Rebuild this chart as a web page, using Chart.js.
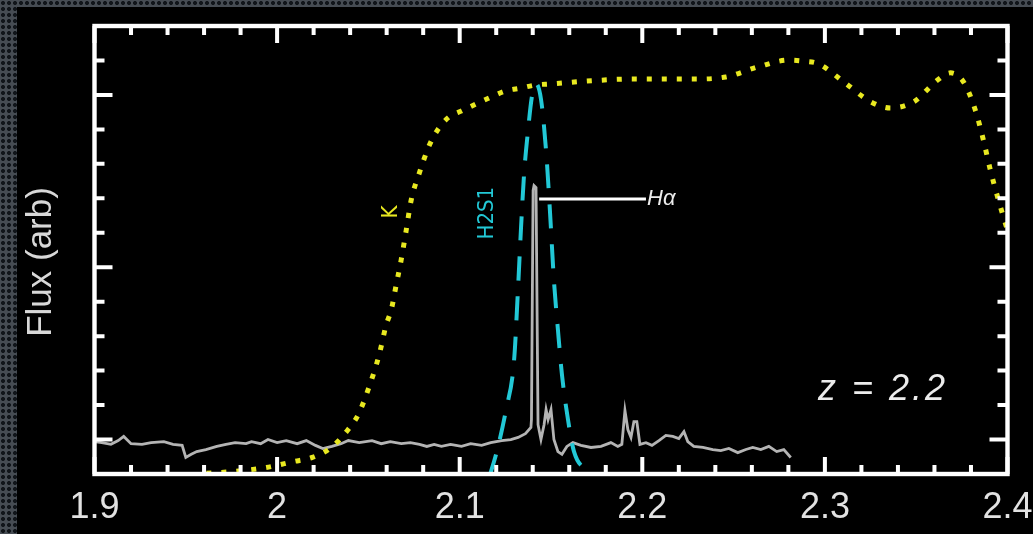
<!DOCTYPE html>
<html>
<head>
<meta charset="utf-8">
<script src="https://cdn.jsdelivr.net/npm/chart.js@4.4.1/dist/chart.umd.min.js"></script>
<style>
  html, body { margin: 0; padding: 0; }
  body {
    width: 1033px; height: 534px; overflow: hidden; position: relative;
    background-color: #464c53;
    background-image: radial-gradient(circle, #11151a 1.7px, transparent 2.3px);
    background-size: 6px 6px;
  }
  #panel { position: absolute; left: 17px; top: 7px; right: 0; bottom: 0; background: #000; }
  #wrap { position: absolute; left: 0; top: 0; width: 1033px; height: 534px; }
</style>
</head>
<body>
<div id="panel"></div>
<div id="wrap"><canvas id="specChart"></canvas></div>
<script>
// K band filter curve (dotted yellow)
const kWave = [1.9613, 1.9777, 1.9941, 2.0089, 2.0193, 2.0297, 2.0389, 2.0444, 2.0504, 2.0559,
  2.0597, 2.0625, 2.0652, 2.0679, 2.0707, 2.0734, 2.0778, 2.0833, 2.0876, 2.0937, 2.1013, 2.1090,
  2.1172, 2.1254, 2.1336, 2.1418, 2.1500, 2.1691, 2.1938, 2.2266, 2.2457, 2.2632, 2.2802, 2.2884,
  2.2966, 2.3103, 2.3251, 2.3360, 2.3486, 2.3617, 2.3688, 2.3759, 2.3825, 2.3869, 2.3907, 2.3951, 2.4000];
const kFlux = [-0.98, -0.92, -0.81, -0.64, -0.52, -0.23, 0.29, 0.72, 1.53, 2.46,
  3.32, 3.76, 4.48, 5.20, 6.07, 6.94, 7.72, 8.53, 8.96, 9.34, 9.54, 9.74,
  9.94, 10.12, 10.20, 10.29, 10.32, 10.40, 10.46, 10.46, 10.52, 10.81, 11.01, 10.98,
  10.90, 10.38, 9.80, 9.62, 9.80, 10.43, 10.64, 10.38, 9.54, 8.67, 7.80, 6.94, 6.07];

// H2S1 narrow filter (dashed cyan)
const h2Wave = [2.1161, 2.1199, 2.1254, 2.1298, 2.1319, 2.1336, 2.1352, 2.1374, 2.1396, 2.1418,
  2.1445, 2.1473, 2.1494, 2.1516, 2.1538, 2.1560, 2.1593, 2.1626, 2.1702, 2.1773];
const h2Flux = [-1.1, -0.43, 0.87, 2.31, 4.34, 6.16, 7.66, 8.96, 9.97, 10.32,
  9.88, 8.38, 6.65, 4.62, 3.18, 1.88, 0.58, -0.35, -0.92, -1.3];

// observed spectrum (grey)
const specWave = [1.900, 1.904, 1.909, 1.913, 1.916, 1.920, 1.926, 1.931, 1.938, 1.943, 1.948, 1.950,
  1.953, 1.956, 1.961, 1.967, 1.972, 1.977, 1.983, 1.986, 1.991, 1.995, 2.000, 2.005, 2.011, 2.016,
  2.021, 2.025, 2.030, 2.035, 2.039, 2.045, 2.052, 2.057, 2.062, 2.068, 2.073, 2.078, 2.082, 2.086,
  2.090, 2.095, 2.101, 2.106, 2.112, 2.117, 2.123, 2.128, 2.132, 2.136, 2.139, 2.1393, 2.1402, 2.1407,
  2.1418, 2.1429, 2.1445, 2.1462, 2.1473, 2.1484, 2.1500, 2.1516, 2.1538, 2.1560, 2.1587, 2.1620,
  2.1664, 2.1719, 2.1774, 2.1828, 2.1866, 2.1888, 2.1905, 2.1921, 2.1938, 2.1954, 2.1970, 2.1987,
  2.2020, 2.2053, 2.2091, 2.2129, 2.2167, 2.2200, 2.2228, 2.2249, 2.2282, 2.2332, 2.2386, 2.2430,
  2.2474, 2.2523, 2.2567, 2.2605, 2.2649, 2.2693, 2.2736, 2.2775, 2.2813];
const specFlux = [-0.06, -0.09, -0.14, -0.03, 0.09, -0.12, -0.14, -0.09, -0.06, -0.14, -0.17, -0.52,
  -0.43, -0.35, -0.29, -0.20, -0.14, -0.09, -0.12, -0.06, -0.12, 0.00, -0.09, -0.03, -0.12, -0.03,
  -0.17, -0.26, -0.20, -0.12, -0.03, -0.09, -0.03, -0.12, -0.06, -0.12, -0.09, -0.14, -0.20, -0.14,
  -0.20, -0.14, -0.20, -0.12, -0.17, -0.09, -0.03, 0.00, 0.06, 0.17, 0.35, 0.58, 7.23, 7.37,
  7.31, 0.43, 0.00, 0.43, 0.87, 0.58, 0.87, 0.00, -0.35, -0.43, -0.20, -0.09,
  -0.17, -0.23, -0.20, -0.09, -0.20, -0.14, 0.84, 0.29, 0.06, 0.52, 0.52, -0.14,
  -0.09, -0.17, -0.03, 0.12, 0.09, 0.03, 0.23, -0.06, -0.20, -0.23, -0.29, -0.32,
  -0.26, -0.38, -0.29, -0.23, -0.29, -0.20, -0.35, -0.29, -0.52];

const tickValues = [1.9, 2.0, 2.1, 2.2, 2.3, 2.4];
const tickLabels = ['1.9', '2', '2.1', '2.2', '2.3', '2.4'];

function pts(xs, ys) {
  return xs.map((x, i) => ({ x: x, y: ys[i] }));
}

const framePlugin = {
  id: 'framePlugin',
  afterDatasetsDraw(chart) {
    const ctx = chart.ctx;
    const xs = chart.scales.x;
    const ys = chart.scales.y;
    const a = chart.chartArea;
    ctx.save();
    ctx.strokeStyle = '#ffffff';
    ctx.lineCap = 'butt';

    // inward ticks
    ctx.lineWidth = 4;
    for (let i = 0; i <= 25; i++) {
      const px = xs.getPixelForValue(1.9 + i * 0.02);
      const len = i % 5 === 0 ? 17 : 9;
      ctx.beginPath();
      ctx.moveTo(px, a.bottom); ctx.lineTo(px, a.bottom - len);
      ctx.moveTo(px, a.top); ctx.lineTo(px, a.top + len);
      ctx.stroke();
    }
    for (let v = -1; v <= 12; v++) {
      const py = ys.getPixelForValue(v);
      const len = v % 5 === 0 ? 18 : 10;
      ctx.beginPath();
      ctx.moveTo(a.left, py); ctx.lineTo(a.left + len, py);
      ctx.moveTo(a.right, py); ctx.lineTo(a.right - len, py);
      ctx.stroke();
    }
    ctx.lineWidth = 4.4;
    ctx.strokeRect(a.left, a.top, a.right - a.left, a.bottom - a.top);

    // H-alpha marker line
    ctx.lineWidth = 3;
    ctx.beginPath();
    ctx.moveTo(xs.getPixelForValue(2.1435), ys.getPixelForValue(6.98));
    ctx.lineTo(xs.getPixelForValue(2.2020), ys.getPixelForValue(6.98));
    ctx.stroke();

    ctx.fillStyle = '#ececec';
    ctx.textBaseline = 'middle';
    ctx.textAlign = 'left';
    ctx.font = 'italic 22px "Liberation Sans"';
    ctx.fillText('H\u03b1', xs.getPixelForValue(2.2026), ys.getPixelForValue(6.98));

    ctx.textBaseline = 'alphabetic';
    ctx.font = 'italic 36px "Liberation Sans"';
    ctx.letterSpacing = '3px';
    ctx.fillText('z = 2.2', xs.getPixelForValue(2.2962), ys.getPixelForValue(1.15));
    ctx.letterSpacing = '0px';

    // rotated filter names
    ctx.textAlign = 'center';
    ctx.textBaseline = 'middle';
    ctx.font = '22px "DejaVu Sans Condensed"';
    ctx.save();
    ctx.translate(xs.getPixelForValue(2.0624), ys.getPixelForValue(6.6));
    ctx.rotate(-Math.PI / 2);
    ctx.fillStyle = '#e8e820';
    ctx.fillText('K', 0, 0);
    ctx.restore();
    ctx.save();
    ctx.translate(xs.getPixelForValue(2.115), ys.getPixelForValue(6.57));
    ctx.rotate(-Math.PI / 2);
    ctx.fillStyle = '#22c8d6';
    ctx.fillText('H2S1', 0, 0);
    ctx.restore();

    // y axis title
    ctx.save();
    ctx.translate(41, 262);
    ctx.rotate(-Math.PI / 2);
    ctx.fillStyle = '#d8d8d8';
    ctx.font = '35px "Liberation Sans"';
    ctx.fillText('Flux (arb)', 0, 0);
    ctx.restore();

    ctx.restore();
  }
};

const ctx = document.getElementById('specChart').getContext('2d');
new Chart(ctx, {
  type: 'scatter',
  data: {
    datasets: [
      {
        label: 'K',
        data: pts(kWave, kFlux),
        showLine: true,
        borderColor: '#e8e820',
        borderWidth: 5,
        borderDash: [5, 10],
        cubicInterpolationMode: 'monotone',
        pointRadius: 0
      },
      {
        label: 'H2S1',
        data: pts(h2Wave, h2Flux),
        showLine: true,
        borderColor: '#22c8d6',
        borderWidth: 4,
        borderDash: [24, 16],
        cubicInterpolationMode: 'monotone',
        pointRadius: 0
      },
      {
        label: 'spectrum',
        data: pts(specWave, specFlux),
        showLine: true,
        borderColor: '#b4b4b4',
        borderWidth: 2.8,
        tension: 0,
        pointRadius: 0
      }
    ]
  },
  options: {
    responsive: true,
    maintainAspectRatio: false,
    animation: false,
    devicePixelRatio: 1,
    layout: { padding: { left: 94.5, right: 25.5, top: 26, bottom: 4.8 } },
    plugins: { legend: { display: false }, tooltip: { enabled: false } },
    scales: {
      x: {
        type: 'linear',
        min: 1.9,
        max: 2.4,
        grid: { display: false, drawTicks: false },
        border: { display: false },
        afterFit: function(s) {
          s.height = 55.2;
          s.paddingLeft = 0;
          s.paddingRight = 0;
        },
        ticks: {
          stepSize: 0.1,
          padding: 12,
          color: '#e2e2e2',
          font: { family: 'Liberation Sans', size: 36 },
          callback: function(v) {
            const i = tickValues.findIndex(t => Math.abs(t - v) < 1e-6);
            return i >= 0 ? tickLabels[i] : '';
          }
        }
      },
      y: {
        type: 'linear',
        min: -1,
        max: 12,
        display: false
      }
    }
  },
  plugins: [framePlugin]
});
</script>
</body>
</html>
